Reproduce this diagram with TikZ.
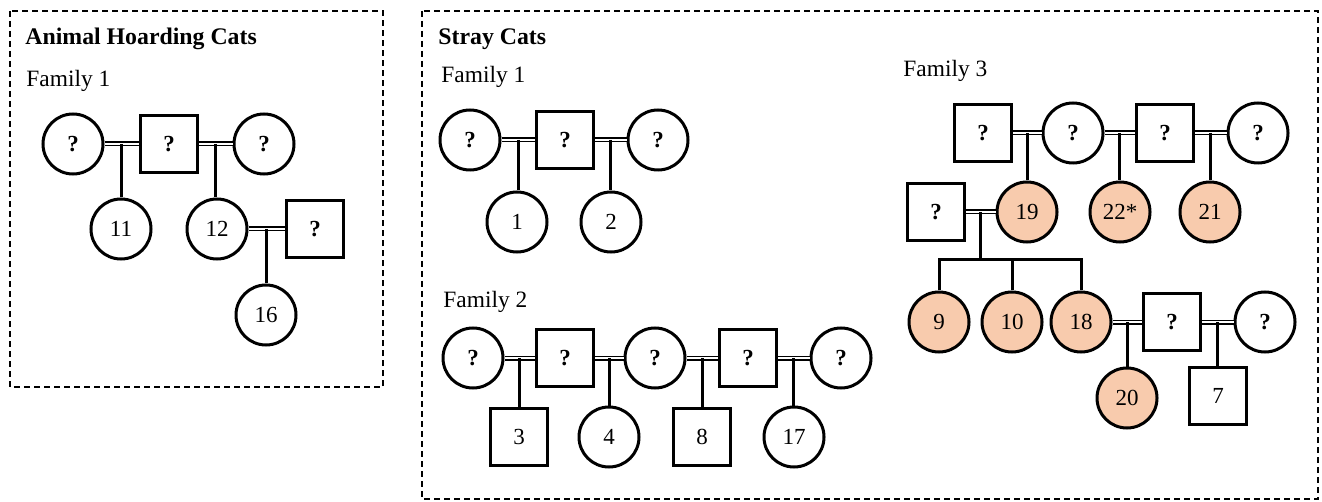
\documentclass[tikz,border=0pt]{standalone}
\usepackage{fontspec}
\setmainfont{Liberation Serif}
\definecolor{peach}{HTML}{F8CBAD}
\tikzset{fe/.style = {circle,    line width=1.5pt, minimum size=30pt, inner sep=0pt, draw},
         ma/.style = {rectangle, line width=1.5pt, minimum size=28.5pt, inner sep=0pt, draw},
         af/.style = {fill=peach},
         cp/.style = {line width=0.8pt, double distance=0.9pt},
         ln/.style = {line width=1.5pt},
         bx/.style = {line width=0.8pt, dash pattern=on 3pt off 2pt},
         hd/.style = {anchor=base west, inner sep=0pt, font=\fontsize{11.9}{14}\selectfont\bfseries},
         fm/.style = {anchor=base west, inner sep=0pt, font=\fontsize{11.7}{14}\selectfont}}

\begin{document}
\begin{tikzpicture}[x=0.5pt, y=-0.5pt, font=\fontsize{11.5}{14}\selectfont]
    \useasboundingbox (0,0) rectangle (1322,502);
    % boxes
    \draw[bx] (10,11) rectangle (383,387);
    \draw[bx] (422,11) rectangle (1318,499);
    \node[hd] (hoard) at (25,45) {Animal Hoarding Cats};
    \node[hd] (stray) at (438,45) {Stray Cats};
    \node[fm] (fa) at (26,87) {Family 1};
    \node[fm] (fb) at (441,83) {Family 1};
    \node[fm] (fc) at (443,307) {Family 2};
    \node[fm] (fd) at (903,77) {Family 3};
    % hoarding, family 1
    \node[fe] (a1) at (73,144) {\textbf{?}}; \node[ma] (a2) at (169,144) {\textbf{?}}; \node[fe] (a3) at (264,144) {\textbf{?}};
    \node[fe] (a11) at (121,229) {11}; \node[fe] (a12) at (217,229) {12}; \node[ma] (a4) at (315,229) {\textbf{?}};
    \node[fe] (a16) at (266,315) {16};
    \draw[cp] (a1) -- coordinate (ma1) (a2);
    \draw[cp] (a2) -- coordinate (ma2) (a3);
    \draw[cp] (a12) -- coordinate (ma3) (a4);
    \draw[ln] (ma1) -- (ma1 |- a11.north);
    \draw[ln] (ma2) -- (ma2 |- a12.north);
    \draw[ln] (ma3) -- (ma3 |- a16.north);
    % stray, family 1
    \node[fe] (s1) at (470,140) {\textbf{?}}; \node[ma] (s2) at (565,140) {\textbf{?}}; \node[fe] (s3) at (658,140) {\textbf{?}};
    \node[fe] (s1c) at (517,222) {1}; \node[fe] (s2c) at (611,222) {2};
    \draw[cp] (s1) -- coordinate (ms1) (s2);
    \draw[cp] (s2) -- coordinate (ms2) (s3);
    \draw[ln] (ms1) -- (ms1 |- s1c.north);
    \draw[ln] (ms2) -- (ms2 |- s2c.north);
    % stray, family 2
    \node[fe] (t1) at (473,358) {\textbf{?}}; \node[ma] (t2) at (565,358) {\textbf{?}}; \node[fe] (t3) at (655,358) {\textbf{?}};
    \node[ma] (t4) at (748,358) {\textbf{?}}; \node[fe] (t5) at (841,358) {\textbf{?}};
    \node[ma] (t3c) at (519,437) {3}; \node[fe] (t4c) at (609,437) {4};
    \node[ma] (t8c) at (702,437) {8}; \node[fe] (t17c) at (794,437) {17};
    \draw[cp] (t1) -- coordinate (mt1) (t2);
    \draw[cp] (t2) -- coordinate (mt2) (t3);
    \draw[cp] (t3) -- coordinate (mt3) (t4);
    \draw[cp] (t4) -- coordinate (mt4) (t5);
    \draw[ln] (mt1) -- (mt1 |- t3c.north);
    \draw[ln] (mt2) -- (mt2 |- t4c.north);
    \draw[ln] (mt3) -- (mt3 |- t8c.north);
    \draw[ln] (mt4) -- (mt4 |- t17c.north);
    % stray, family 3
    \node[ma] (u1) at (983,133) {\textbf{?}}; \node[fe] (u2) at (1073,133) {\textbf{?}};
    \node[ma] (u3) at (1165,133) {\textbf{?}}; \node[fe] (u4) at (1258,133) {\textbf{?}};
    \node[ma] (u5) at (936,212) {\textbf{?}}; \node[fe, af] (c19) at (1027,212) {19};
    \node[fe, af] (c22) at (1120,212) {22*}; \node[fe, af] (c21) at (1210,212) {21};
    \node[fe, af] (c9) at (939,322) {9}; \node[fe, af] (c10) at (1012,322) {10}; \node[fe, af] (c18) at (1081,322) {18};
    \node[ma] (u6) at (1172,322) {\textbf{?}}; \node[fe] (u7) at (1265,322) {\textbf{?}};
    \node[fe, af] (c20) at (1127,398) {20}; \node[ma] (c7) at (1218,396) {7};
    \coordinate (sib) at (981,260);
    \draw[cp] (u1) -- coordinate (mu1) (u2);
    \draw[cp] (u2) -- coordinate (mu2) (u3);
    \draw[cp] (u3) -- coordinate (mu3) (u4);
    \draw[cp] (u5) -- coordinate (mu4) (c19);
    \draw[cp] (c18) -- coordinate (mu5) (u6);
    \draw[cp] (u6) -- coordinate (mu6) (u7);
    \draw[ln] (mu1) -- (mu1 |- c19.north);
    \draw[ln] (mu2) -- (mu2 |- c22.north);
    \draw[ln] (mu3) -- (mu3 |- c21.north);
    \draw[ln] (mu4) -- (mu4 |- sib);
    \draw[ln] (c9.north) -- (c9 |- sib) -- (c18 |- sib) -- (c18.north);
    \draw[ln] (c10.north) -- (c10 |- sib);
    \draw[ln] (mu5) -- (mu5 |- c20.north);
    \draw[ln] (mu6) -- (mu6 |- c7.north);
\end{tikzpicture}
\end{document}
